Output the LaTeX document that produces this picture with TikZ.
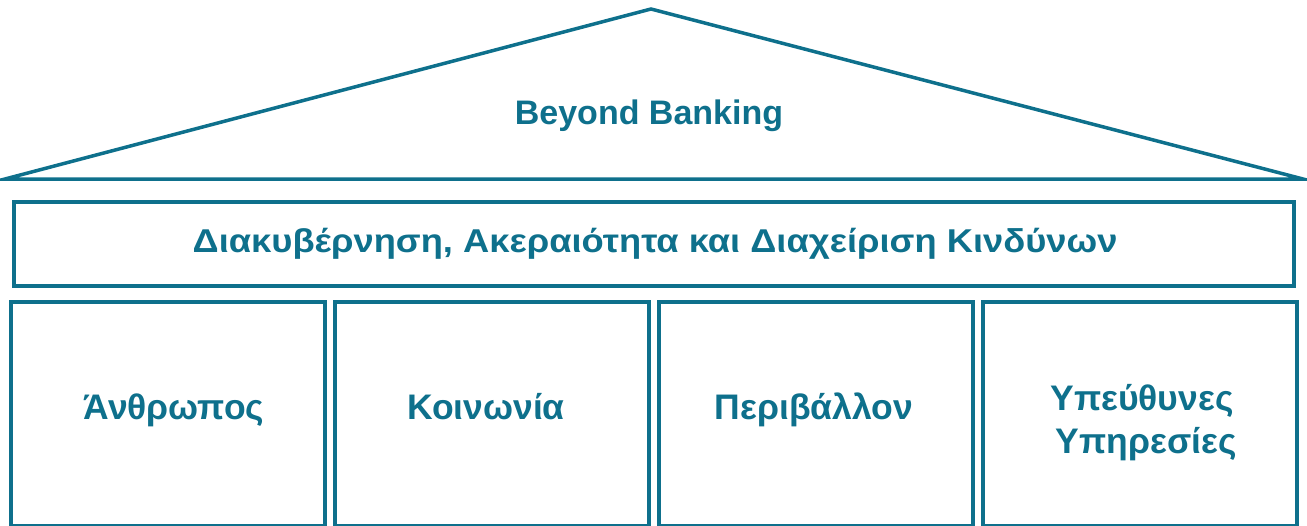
\documentclass[tikz,border=0pt]{standalone}
\usepackage{fontspec}
\setmainfont{Liberation Sans}
\newfontfamily\bannerfont[FakeStretch=1.1]{Liberation Sans}
\definecolor{teal1}{RGB}{14,112,140}
\begin{document}
\begin{tikzpicture}[x=1pt,y=-1pt,
  frame/.style={draw=teal1,line width=3.5pt},
  lbl/.style={text=teal1,font=\bfseries\fontsize{34}{38}\selectfont,anchor=base,inner sep=0pt},
  lblp/.style={text=teal1,font=\bfseries\fontsize{35.5}{38}\selectfont,anchor=base,inner sep=0pt},
  lblm/.style={text=teal1,font=\bannerfont\bfseries\fontsize{33}{36}\selectfont,anchor=base,inner sep=0pt}]
\useasboundingbox (0,0) rectangle (1307,525);
\coordinate (L) at (5,179);
\coordinate (A) at (651,9);
\coordinate (R) at (1303,179);
\draw[frame,line join=miter] (L) -- (A) -- (R) -- cycle;
\node[lbl] (bb) at (649,124) {Beyond Banking};
\node[frame,minimum width=1280pt,minimum height=84pt,anchor=north west,inner sep=0pt] (band) at (12,200) {};
\node[lblm] (gov) at (655,252) {Διακυβέρνηση, Ακεραιότητα και Διαχείριση Κινδύνων};
\node[frame,minimum width=314pt,minimum height=224pt,anchor=north west,inner sep=0pt] (p1) at (9,300) {};
\node[frame,minimum width=314pt,minimum height=224pt,anchor=north west,inner sep=0pt] (p2) at (333,300) {};
\node[frame,minimum width=314pt,minimum height=224pt,anchor=north west,inner sep=0pt] (p3) at (657,300) {};
\node[frame,minimum width=314pt,minimum height=224pt,anchor=north west,inner sep=0pt] (p4) at (981,300) {};
\node[lblp] (t1) at (174,419) {Άνθρωπος};
\node[lblp] (t2) at (486,419) {Κοινωνία};
\node[lblp] (t3) at (814,419) {Περιβάλλον};
\node[lblp] (t4a) at (1142,410) {Υπεύθυνες};
\node[lblp] (t4b) at (1146,453) {Υπηρεσίες};
\end{tikzpicture}
\end{document}
